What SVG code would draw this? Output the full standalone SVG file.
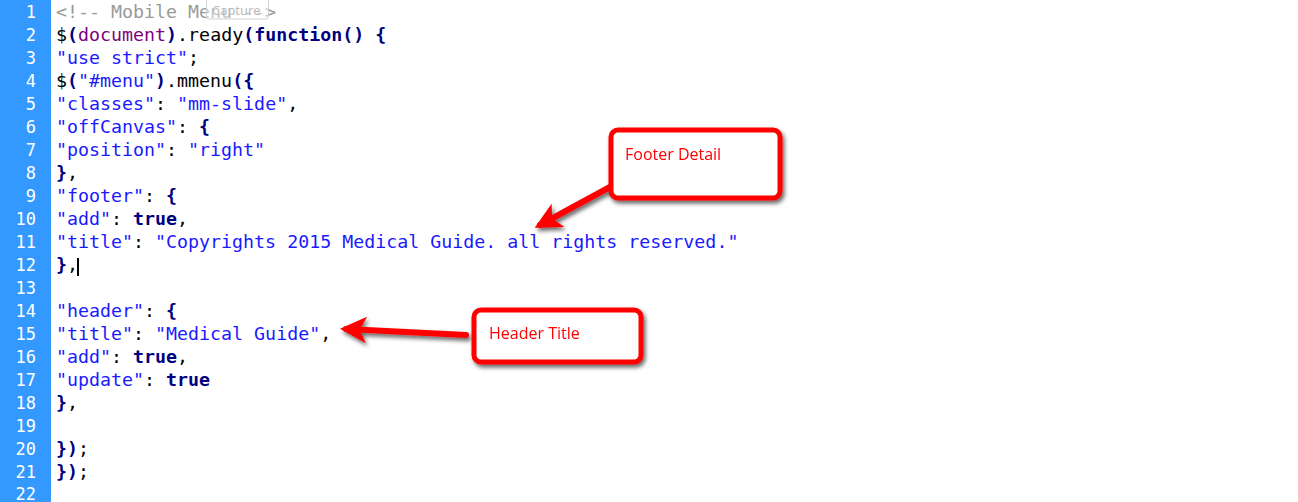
<svg xmlns="http://www.w3.org/2000/svg" width="1298" height="502" viewBox="0 0 1298 502">
<style>
.code{font-family:"DejaVu Sans Mono","Liberation Mono",monospace;font-size:18.3px;fill:#000}
.ln{font-family:"DejaVu Sans Mono","Liberation Mono",monospace;font-size:17px;fill:#fff;text-anchor:end}
.s{fill:#1a1aff}
.k{fill:#000080;font-weight:bold}
.b{fill:#000080;font-weight:bold}
.p{fill:#800080}
.c{fill:#9a9a9a}
.box{fill:#fff;stroke:#f00;stroke-width:5}
.lbl{font-family:"Open Sans","Liberation Sans",sans-serif;font-size:16px;fill:#f00}
.arr{stroke:#f00;stroke-width:6;stroke-linecap:round;fill:none}
</style>
<defs>
<filter id="sh" x="-20%" y="-20%" width="140%" height="150%">
<feDropShadow dx="2" dy="3" stdDeviation="2" flood-color="#000" flood-opacity="0.6"/>
</filter>
<marker id="ah" markerWidth="4.4" markerHeight="4.4" refX="3.4" refY="2.2" orient="auto" markerUnits="strokeWidth">
<path d="M0,0 L4.4,2.2 L0,4.4 L1.1,2.2 Z" fill="#f00"/>
</marker>
</defs>
<rect x="0" y="0" width="1298" height="502" fill="#fff"/>
<rect id="gutter" x="0" y="0" width="51" height="502" fill="#3399ff"/>
<g id="line-numbers">
<text class="ln" x="36" y="18">1</text>
<text class="ln" x="36" y="41">2</text>
<text class="ln" x="36" y="64">3</text>
<text class="ln" x="36" y="87">4</text>
<text class="ln" x="36" y="110">5</text>
<text class="ln" x="36" y="133">6</text>
<text class="ln" x="36" y="156">7</text>
<text class="ln" x="36" y="179">8</text>
<text class="ln" x="36" y="202">9</text>
<text class="ln" x="36" y="225">10</text>
<text class="ln" x="36" y="248">11</text>
<text class="ln" x="36" y="271">12</text>
<text class="ln" x="36" y="294">13</text>
<text class="ln" x="36" y="317">14</text>
<text class="ln" x="36" y="340">15</text>
<text class="ln" x="36" y="363">16</text>
<text class="ln" x="36" y="386">17</text>
<text class="ln" x="36" y="409">18</text>
<text class="ln" x="36" y="432">19</text>
<text class="ln" x="36" y="455">20</text>
<text class="ln" x="36" y="478">21</text>
<text class="ln" x="36" y="500">22</text>
</g>
<g id="code" xml:space="preserve">
<text class="code" x="56" y="18"><tspan class="c">&lt;!-- Mobile Menu --&gt;</tspan></text>
<text class="code" x="56" y="41">$<tspan class="b">(</tspan><tspan class="p">document</tspan><tspan class="b">)</tspan>.ready<tspan class="b">(</tspan><tspan class="k" fill="#000">function</tspan><tspan class="b">() {</tspan></text>
<text class="code" x="56" y="64"><tspan class="s">"use strict"</tspan>;</text>
<text class="code" x="56" y="87">$<tspan class="b">(</tspan><tspan class="s">"#menu"</tspan><tspan class="b">)</tspan>.mmenu<tspan class="b">({</tspan></text>
<text class="code" x="56" y="110"><tspan class="s">"classes"</tspan>: <tspan class="s">"mm-slide"</tspan>,</text>
<text class="code" x="56" y="133"><tspan class="s">"offCanvas"</tspan>: <tspan class="b">{</tspan></text>
<text class="code" x="56" y="156"><tspan class="s">"position"</tspan>: <tspan class="s">"right"</tspan></text>
<text class="code" x="56" y="179"><tspan class="b">}</tspan>,</text>
<text class="code" x="56" y="202"><tspan class="s">"footer"</tspan>: <tspan class="b">{</tspan></text>
<text class="code" x="56" y="225"><tspan class="s">"add"</tspan>: <tspan class="k">true</tspan>,</text>
<text class="code" x="56" y="248"><tspan class="s">"title"</tspan>: <tspan class="s">"Copyrights 2015 Medical Guide. all rights reserved."</tspan></text>
<text class="code" x="56" y="271"><tspan class="b">}</tspan>,</text>
<text class="code" x="56" y="317"><tspan class="s">"header"</tspan>: <tspan class="b">{</tspan></text>
<text class="code" x="56" y="340"><tspan class="s">"title"</tspan>: <tspan class="s">"Medical Guide"</tspan>,</text>
<text class="code" x="56" y="363"><tspan class="s">"add"</tspan>: <tspan class="k">true</tspan>,</text>
<text class="code" x="56" y="386"><tspan class="s">"update"</tspan>: <tspan class="k">true</tspan></text>
<text class="code" x="56" y="409"><tspan class="b">}</tspan>,</text>
<text class="code" x="56" y="455"><tspan class="b">})</tspan>;</text>
<text class="code" x="56" y="478"><tspan class="b">})</tspan>;</text>
</g>
<rect id="cursor" x="77" y="258" width="2" height="18" fill="#000"/>
<g id="tooltip">
<rect x="206.500" y="-2" width="62" height="21" rx="3" fill="#fff" fill-opacity="0.45" stroke="#d0d0d0"/>
<text x="212" y="15" font-family="Open Sans, Liberation Sans, sans-serif" font-size="13" fill="#b8b8b8">Capture</text>
</g>
<g id="connectors" filter="url(#sh)">
<line class="arr" x1="610" y1="187" x2="540" y2="225" marker-end="url(#ah)"/>
<line class="arr" x1="466" y1="335" x2="346" y2="329" marker-end="url(#ah)"/>
</g>
<g id="footer-detail" filter="url(#sh)">
<rect class="box" x="611" y="130" width="169" height="68" rx="7"/>
<text class="lbl" x="625" y="160">Footer Detail</text>
</g>
<g id="header-title" filter="url(#sh)">
<rect class="box" x="474" y="310" width="167" height="52" rx="7"/>
<text class="lbl" x="489" y="339">Header Title</text>
</g>
</svg>
